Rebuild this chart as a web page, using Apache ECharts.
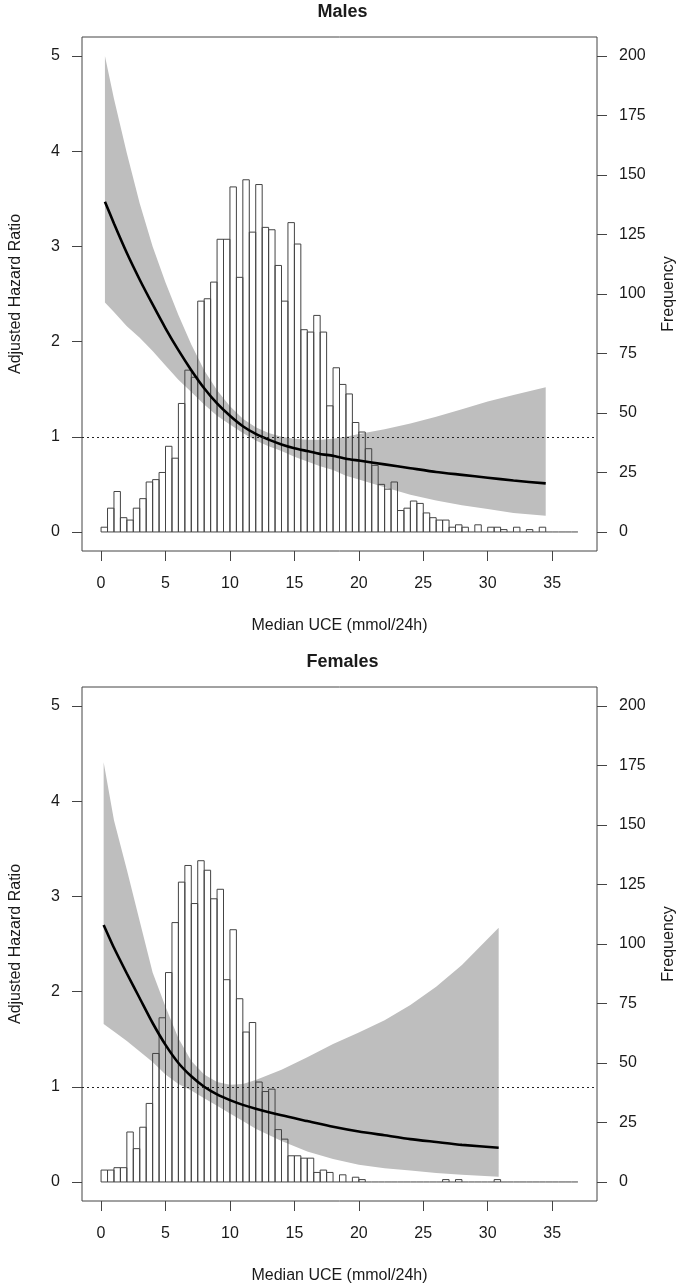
<!DOCTYPE html>
<html>
<head>
<meta charset="utf-8">
<script src="https://cdn.jsdelivr.net/npm/echarts@6/dist/echarts.min.js"></script>
<style>
html,body{margin:0;padding:0;background:#fff;}
#chart{width:685px;height:1286px;}
</style>
</head>
<body>
<div id="chart"></div>
<script>
// ---------------- data ----------------
const BIN_WIDTH = 0.5;
const X_TICKS = [0, 5, 10, 15, 20, 25, 30, 35];
const HR_TICKS = [0, 1, 2, 3, 4, 5];
const FREQ_TICKS = [0, 25, 50, 75, 100, 125, 150, 175, 200];
const PANEL_TITLES = ['Males', 'Females'];

// histogram counts, bins of 0.5 mmol/24h from 0 to 37
const maleCounts = [2, 10, 17, 6, 5, 10, 14, 21, 22, 25, 36, 31, 54, 68, 65, 97, 98, 105, 123, 123,
  145, 107, 148, 126, 146, 128, 127, 112, 97, 130, 121, 85, 84, 91, 84, 53, 69, 62, 58, 46,
  42, 35, 28, 20, 18, 21, 9, 10, 13, 12, 8, 6, 5, 5, 2, 3, 2, 0, 3, 0,
  2, 2, 1, 0, 2, 0, 1, 0, 2, 0, 0, 0, 0, 0];
const femaleCounts = [5, 5, 6, 6, 21, 14, 23, 33, 54, 69, 88, 109, 126, 133, 117, 135, 131, 119, 123, 85,
  106, 77, 63, 67, 42, 38, 39, 22, 18, 11, 11, 10, 10, 4, 5, 4, 0, 3, 0, 2,
  1, 0, 0, 0, 0, 0, 0, 0, 0, 0, 0, 0, 0, 1, 0, 1, 0, 0, 0, 0,
  0, 1, 0, 0, 0, 0, 0, 0, 0, 0, 0, 0, 0, 0];

// hazard ratio curves with confidence band
const maleX = [0.3, 1, 2, 3, 4, 5, 6, 7, 8, 9, 10, 11, 12, 13, 14, 15, 16, 17, 18, 19, 20, 22, 24, 26, 28, 30, 32, 34.5];
const maleHR = [3.47, 3.24, 2.93, 2.65, 2.39, 2.14, 1.91, 1.70, 1.51, 1.35, 1.22, 1.11, 1.03, 0.97, 0.92, 0.88, 0.85, 0.82, 0.80, 0.77, 0.75, 0.71, 0.67, 0.63, 0.60, 0.57, 0.54, 0.51];
const maleUpper = [5.0, 4.55, 3.98, 3.45, 3.00, 2.62, 2.28, 1.97, 1.70, 1.49, 1.32, 1.19, 1.10, 1.04, 1.00, 0.98, 0.97, 0.97, 0.98, 1.00, 1.03, 1.08, 1.14, 1.21, 1.29, 1.37, 1.44, 1.52];
const maleLower = [2.41, 2.31, 2.16, 2.04, 1.90, 1.75, 1.60, 1.47, 1.34, 1.22, 1.13, 1.04, 0.96, 0.90, 0.85, 0.79, 0.74, 0.69, 0.65, 0.59, 0.55, 0.47, 0.39, 0.33, 0.28, 0.24, 0.20, 0.17];

const femaleX = [0.2, 1, 2, 3, 4, 5, 6, 7, 8, 9, 10, 11, 12, 14, 16, 18, 20, 22, 24, 26, 28, 30.85];
const femaleHR = [2.70, 2.46, 2.19, 1.93, 1.67, 1.44, 1.25, 1.11, 1.00, 0.92, 0.86, 0.81, 0.77, 0.70, 0.64, 0.58, 0.53, 0.49, 0.45, 0.42, 0.39, 0.36];
const femaleUpper = [4.41, 3.80, 3.28, 2.74, 2.20, 1.84, 1.51, 1.27, 1.13, 1.05, 1.02, 1.03, 1.07, 1.18, 1.31, 1.45, 1.57, 1.70, 1.86, 2.05, 2.28, 2.67];
const femaleLower = [1.66, 1.58, 1.48, 1.37, 1.26, 1.13, 1.03, 0.96, 0.88, 0.80, 0.72, 0.64, 0.56, 0.43, 0.32, 0.24, 0.18, 0.145, 0.12, 0.095, 0.075, 0.055];

// ---------------- chart ----------------
const FONT = "'Liberation Sans', Arial, sans-serif";
const TXT = '#1a1a1a';
const AX = '#444';

const panels = [
  {counts: maleCounts, x: maleX, hr: maleHR, up: maleUpper, lo: maleLower, top: 37},
  {counts: femaleCounts, x: femaleX, hr: femaleHR, up: femaleUpper, lo: femaleLower, top: 687}
];
const GRID_H = 514;

const grids = [], xAxes = [], yAxes = [], series = [], titles = [];

panels.forEach((p, gi) => {
  grids.push({left: 82, right: 86, top: p.top, height: GRID_H, show: true,
    borderColor: AX, borderWidth: 1, backgroundColor: 'transparent'});
  titles.push({text: PANEL_TITLES[gi], left: 'center', top: p.top - 39,
    textStyle: {fontFamily: FONT, fontSize: 18, fontWeight: 'bold', color: TXT}});
  xAxes.push({gridIndex: gi, type: 'value', min: -1.48, max: 38.48,
    axisLine: {show: false, onZero: false},
    axisTick: {show: true, inside: false, length: 10, customValues: X_TICKS, lineStyle: {color: AX}},
    axisLabel: {customValues: X_TICKS, margin: 25, fontSize: 16, fontFamily: FONT, color: TXT},
    splitLine: {show: false},
    name: 'Median UCE (mmol/24h)', nameLocation: 'middle', nameGap: 67,
    nameTextStyle: {fontSize: 16, fontFamily: FONT, color: TXT}});
  yAxes.push({gridIndex: gi, type: 'value', position: 'left', min: -0.2, max: 5.2,
    axisLine: {show: false, onZero: false},
    axisTick: {show: true, inside: false, length: 10, customValues: HR_TICKS, lineStyle: {color: AX}},
    axisLabel: {customValues: HR_TICKS, margin: 22, fontSize: 16, fontFamily: FONT, color: TXT},
    splitLine: {show: false},
    name: 'Adjusted Hazard Ratio', nameLocation: 'middle', nameGap: 58,
    nameTextStyle: {fontSize: 16, fontFamily: FONT, color: TXT}});
  yAxes.push({gridIndex: gi, type: 'value', position: 'right', min: -8, max: 208,
    axisLine: {show: false, onZero: false},
    axisTick: {show: true, inside: false, length: 10, customValues: FREQ_TICKS, lineStyle: {color: AX}},
    axisLabel: {customValues: FREQ_TICKS, margin: 22, fontSize: 16, fontFamily: FONT, color: TXT},
    splitLine: {show: false},
    name: 'Frequency', nameLocation: 'middle', nameGap: 64,
    nameTextStyle: {fontSize: 16, fontFamily: FONT, color: TXT}});

  const hrAxis = gi * 2, freqAxis = gi * 2 + 1;

  // confidence band
  series.push({type: 'custom', xAxisIndex: gi, yAxisIndex: hrAxis, z: 1, silent: true,
    data: [[p.x[0], p.up[0]]],
    renderItem: function (params, api) {
      const pts = [];
      for (let i = 0; i < p.x.length; i++) pts.push(api.coord([p.x[i], p.up[i]]));
      for (let i = p.x.length - 1; i >= 0; i--) pts.push(api.coord([p.x[i], p.lo[i]]));
      return {type: 'polygon', shape: {points: pts}, style: {fill: '#bebebe', stroke: null}};
    }});

  // histogram
  series.push({type: 'custom', xAxisIndex: gi, yAxisIndex: freqAxis, z: 2, silent: true,
    data: p.counts.map((c, i) => [i * BIN_WIDTH, (i + 1) * BIN_WIDTH, c]),
    encode: {x: [0, 1], y: 2},
    renderItem: function (params, api) {
      const x0 = api.value(0), x1 = api.value(1), c = api.value(2);
      const a = api.coord([x0, c]);
      const b = api.coord([x1, 0]);
      if (c === 0) {
        return {type: 'line', shape: {x1: a[0], y1: b[1], x2: b[0], y2: b[1]},
          style: {stroke: '#444', lineWidth: 1}};
      }
      return {type: 'rect', shape: {x: a[0], y: a[1], width: b[0] - a[0], height: b[1] - a[1]},
        style: {fill: 'none', stroke: '#444', lineWidth: 1}};
    }});

  // hazard ratio curve + reference line
  series.push({type: 'line', xAxisIndex: gi, yAxisIndex: hrAxis, z: 3, silent: true,
    data: p.x.map((x, i) => [x, p.hr[i]]),
    showSymbol: false, smooth: 0.2,
    lineStyle: {color: '#000', width: 2.6},
    markLine: {symbol: 'none', silent: true, label: {show: false},
      lineStyle: {type: [2, 3], color: '#222', width: 1.2},
      data: [{yAxis: 1}]}});
});

const chart = echarts.init(document.getElementById('chart'), null, {renderer: 'canvas'});
chart.setOption({
  animation: false,
  backgroundColor: '#fff',
  title: titles,
  grid: grids,
  xAxis: xAxes,
  yAxis: yAxes,
  series: series
});
</script>
</body>
</html>
